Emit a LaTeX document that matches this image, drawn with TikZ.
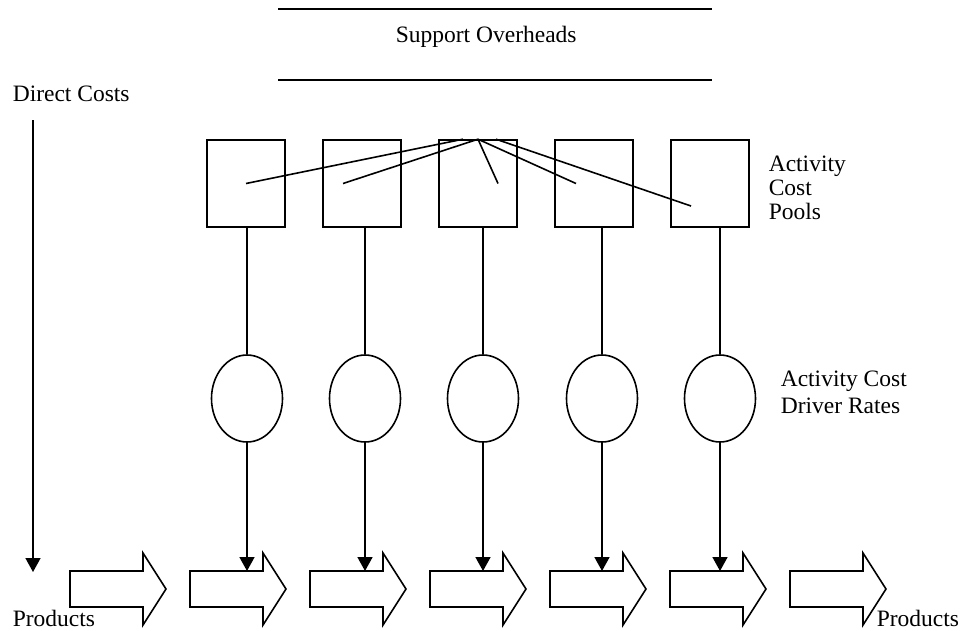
\documentclass[tikz,border=0pt]{standalone}
\usepackage{fontspec}
\setmainfont{Liberation Serif}
\usetikzlibrary{shapes.geometric,arrows.meta}
\begin{document}
\begin{tikzpicture}[x=1pt,y=-1pt,line width=1.6pt,
	lbl/.style={inner sep=0pt,anchor=base west,font=\fontsize{23.5}{24}\selectfont},
	pool/.style={draw,rectangle,minimum width=78pt,minimum height=87pt,inner sep=0pt},
	rate/.style={draw,ellipse,minimum width=71pt,minimum height=87pt,inner sep=0pt},
	flow/.style={-{Triangle[length=14pt,width=15pt]}}]
	\useasboundingbox (0,0) rectangle (962,630);
	% overheads band
	\draw (278,9) -- (712,9);
	\draw (278,80) -- (712,80);
	\node[lbl] (so) at (395,42) {Support Overheads};
	% direct costs
	\node[lbl] (dc) at (12,101) {Direct Costs};
	\coordinate (d1) at (33,120);
	\coordinate (d2) at (33,572);
	\draw[flow] (d1) -- (d2);
	% pools and rates
	\foreach \i/\bx/\cx in {1/246/247,2/362/365,3/478/483,4/594/602,5/710/720}{
		\node[pool] (b\i) at (\bx,183.5) {};
		\node[rate] (c\i) at (\cx,398.5) {};
		\coordinate (t\i) at (\cx,571);
	}
	\node[lbl,align=left] (lp) at (768,219) {Activity\\Cost\\Pools};
	\node[lbl,align=left,font=\fontsize{23.5}{27}\selectfont] (lr) at (780,413) {Activity Cost\\Driver Rates};
	% spread of the overheads
	\draw ([shift={(-15,0)}]b3.north) -- (b1.center);
	\draw (b3.north) -- ([shift={(-19,0)}]b2.center);
	\draw (b3.north) -- ([shift={(20,0)}]b3.center);
	\draw (b3.north) -- ([shift={(-18,0)}]b4.center);
	\draw ([shift={(18,0)}]b3.north) -- ([shift={(-19,22.5)}]b5.center);
	% drivers
	\foreach \i in {1,...,5}{
		\draw (b\i.south -| c\i.north) -- (c\i.north);
		\draw[flow] (c\i.south) -- (t\i);
	}
	% products flow
	\foreach \k in {0,...,6}{
		\draw[line join=miter] (70+120*\k,571) -- ++(73,0) -- ++(0,-18) -- ++(23,36)
			-- ++(-23,36) -- ++(0,-18) -- ++(-73,0) -- cycle;
	}
	\node[lbl] (pl) at (12,626) {Products};
	\node[lbl] (pr) at (876,626) {Products};
\end{tikzpicture}
\end{document}
